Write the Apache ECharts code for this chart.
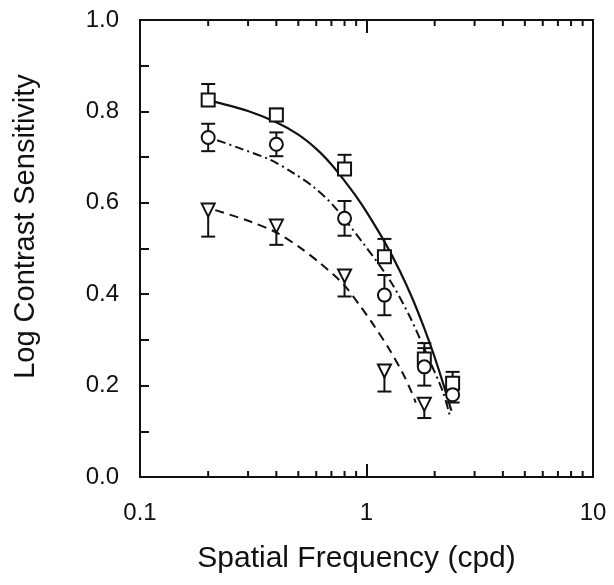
<!DOCTYPE html>
<html><head><meta charset="utf-8">
<script src="https://cdn.jsdelivr.net/npm/echarts@6/dist/echarts.min.js"></script>
<style>html,body{margin:0;padding:0;background:#fff}#c{width:614px;height:585px}</style>
</head><body><div id="c"></div>
<script>
// ---- data ----
const freqs = [0.2, 0.4, 0.8, 1.2, 1.8, 2.4];
const squareY = [0.825, 0.792, 0.674, 0.482, 0.258, 0.205];
const squareErrUp = [0.035, 0.014, 0.031, 0.039, 0.035, 0.025];
const circleY = [0.743, 0.728, 0.566, 0.398, 0.241, 0.180];
const circleErr = [0.030, 0.026, 0.038, 0.044, 0.041, 0.017];
const triFreqs = [0.2, 0.4, 0.8, 1.2, 1.8];
const triY = [0.584, 0.549, 0.440, 0.232, 0.159];
const triErrDown = [0.058, 0.041, 0.045, 0.045, 0.030];

const solidFitX = [0.21, 0.3, 0.4, 0.5, 0.6, 0.7, 0.8, 0.9, 1.0, 1.2, 1.4, 1.6, 1.8, 2.0, 2.2, 2.37];
const solidFitY = [0.822, 0.801, 0.776, 0.749, 0.718, 0.684, 0.648, 0.614, 0.580, 0.515, 0.452, 0.389, 0.325, 0.262, 0.198, 0.145];
const dashDotFitX = [0.219, 0.277, 0.376, 0.476, 0.583, 0.714, 0.968, 1.27, 1.556, 1.84, 2.18, 2.33];
const dashDotFitY = [0.737, 0.719, 0.694, 0.665, 0.635, 0.594, 0.511, 0.430, 0.350, 0.270, 0.185, 0.135];
const dashedFitX = [0.215, 0.307, 0.40, 0.509, 0.624, 0.714, 0.80, 0.936, 1.07, 1.27, 1.45, 1.58, 1.65];
const dashedFitY = [0.584, 0.559, 0.535, 0.502, 0.468, 0.443, 0.419, 0.375, 0.334, 0.277, 0.226, 0.186, 0.163];

const xTickLabels = {0.1: '0.1', 1: '1', 10: '10'};
const yTickLabels = ['0.0', '0.2', '0.4', '0.6', '0.8', '1.0'];
const minorTickValues = [0.2, 0.3, 0.4, 0.5, 0.6, 0.7, 0.8, 0.9, 2, 3, 4, 5, 6, 7, 8, 9];

const xTitle = 'Spatial Frequency (cpd)';
const yTitle = 'Log Contrast Sensitivity';

// ---- build ----
const INK = '#111';
const FONT = '"Liberation Sans", Arial, Helvetica, sans-serif';
const zip = (xs, ys) => xs.map((x, i) => [x, ys[i]]);

const errRows = [];
freqs.forEach((f, i) => errRows.push([f, squareY[i], squareErrUp[i], 0]));
freqs.forEach((f, i) => errRows.push([f, circleY[i], circleErr[i], circleErr[i]]));
triFreqs.forEach((f, i) => errRows.push([f, triY[i], 0, triErrDown[i]]));

const chart = echarts.init(document.getElementById('c'), null, {renderer: 'canvas'});
const baseX = {
  type: 'log', logBase: 10, min: 0.1, max: 10,
  axisLine: {show: false}, splitLine: {show: false},
  axisTick: {show: true, inside: true, length: 13, lineStyle: {color: INK, width: 2}}
};
const markerStyle = {color: '#fff', borderColor: INK, borderWidth: 2, opacity: 1};
chart.setOption({
  animation: false,
  backgroundColor: '#fff',
  grid: {left: 140, right: 21, top: 20, bottom: 108, show: true, borderColor: INK, borderWidth: 2, backgroundColor: 'transparent'},
  xAxis: [
    Object.assign({}, baseX, {
      position: 'bottom',
      name: xTitle, nameLocation: 'middle', nameGap: 67,
      nameTextStyle: {fontSize: 30, color: INK, fontFamily: FONT, padding: [0, 20, 0, 0]},
      axisLabel: {show: true, margin: 24, fontSize: 24, color: INK, fontFamily: FONT,
        formatter: v => xTickLabels[+v] !== undefined ? xTickLabels[+v] : ''}
    }),
    Object.assign({}, baseX, {position: 'top', axisLabel: {show: false}})
  ],
  yAxis: [{
    type: 'value', min: 0, max: 1, interval: 0.2,
    axisLine: {show: false}, splitLine: {show: false},
    axisTick: {show: true, inside: true, length: 9, lineStyle: {color: INK, width: 2}},
    minorTick: {show: true, splitNumber: 2, length: 9, lineStyle: {color: INK, width: 2}},
    axisLabel: {margin: 21, fontSize: 24, color: INK, fontFamily: FONT,
      formatter: v => yTickLabels[Math.round(v / 0.2)]},
    name: yTitle, nameLocation: 'middle', nameGap: 100,
    nameTextStyle: {fontSize: 29, color: INK, fontFamily: FONT, padding: [0, 0, 0, 44]}
  }],
  series: [
    {
      type: 'custom', name: 'minorTicks', silent: true, clip: false,
      data: minorTickValues.map(v => [v, 0]),
      renderItem(params, api) {
        const v = api.value(0);
        const b = api.coord([v, 0]);
        const t = api.coord([v, 1]);
        const st = {stroke: INK, lineWidth: 2};
        return {type: 'group', children: [
          {type: 'line', shape: {x1: b[0], y1: b[1], x2: b[0], y2: b[1] - 6}, style: st},
          {type: 'line', shape: {x1: t[0], y1: t[1], x2: t[0], y2: t[1] + 6}, style: st}
        ]};
      }
    },
    {type: 'line', name: 'fitSolid', data: zip(solidFitX, solidFitY), smooth: 0.3, showSymbol: false, symbol: 'none',
      lineStyle: {color: INK, width: 2.2, type: 'solid'}, z: 2},
    {type: 'line', name: 'fitDashDot', data: zip(dashDotFitX, dashDotFitY), smooth: 0.3, showSymbol: false, symbol: 'none',
      lineStyle: {color: INK, width: 2, type: [9, 4, 2, 4]}, z: 2},
    {type: 'line', name: 'fitDashed', data: zip(dashedFitX, dashedFitY), smooth: 0.3, showSymbol: false, symbol: 'none',
      lineStyle: {color: INK, width: 2, type: [9, 6]}, z: 2},
    {
      type: 'custom', name: 'errorBars', z: 3,
      data: errRows,
      renderItem(params, api) {
        const x = api.value(0), y = api.value(1), up = api.value(2), dn = api.value(3);
        const top = api.coord([x, y + up]);
        const bot = api.coord([x, y - dn]);
        const st = {stroke: INK, lineWidth: 2};
        const kids = [{type: 'line', shape: {x1: top[0], y1: top[1], x2: bot[0], y2: bot[1]}, style: st}];
        if (up > 0) kids.push({type: 'line', shape: {x1: top[0] - 7, y1: top[1], x2: top[0] + 7, y2: top[1]}, style: st});
        if (dn > 0) kids.push({type: 'line', shape: {x1: bot[0] - 7, y1: bot[1], x2: bot[0] + 7, y2: bot[1]}, style: st});
        return {type: 'group', children: kids};
      }
    },
    {type: 'scatter', name: 'squares', data: zip(freqs, squareY), symbol: 'rect', symbolSize: 13, z: 4,
      itemStyle: markerStyle},
    {type: 'scatter', name: 'circles', data: zip(freqs, circleY), symbol: 'circle', symbolSize: 13, z: 4,
      itemStyle: markerStyle},
    {type: 'scatter', name: 'triangles', data: zip(triFreqs, triY), symbol: 'triangle', symbolRotate: 180, symbolSize: [13, 13], z: 4,
      itemStyle: markerStyle}
  ]
});
</script></body></html>
